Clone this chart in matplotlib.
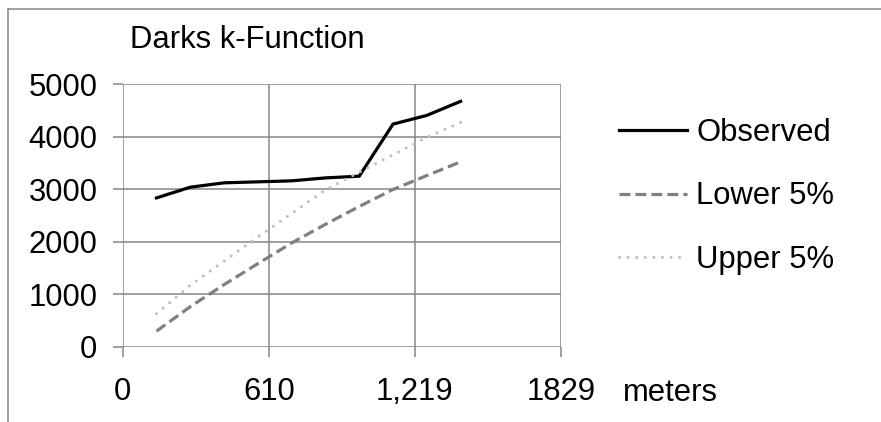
import matplotlib
matplotlib.use("Agg")
import matplotlib.pyplot as plt
from matplotlib.lines import Line2D

plt.rcParams['font.family'] = ['Liberation Sans', 'DejaVu Sans']

# ---------------- Data ----------------
distance = [141, 282, 423, 564, 705, 846, 987, 1128, 1269, 1410]
observed = [2833, 3038, 3121, 3140, 3159, 3215, 3248, 4241, 4407, 4675]
lower_5 = [293, 760, 1180, 1580, 1974, 2330, 2670, 2994, 3260, 3521]
upper_5 = [625, 1167, 1628, 2086, 2536, 2987, 3323, 3656, 3988, 4274]

x_ticks = [0, 610, 1219, 1829]
x_tick_labels = ["0", "610", "1,219", "1829"]
y_ticks = [0, 1000, 2000, 3000, 4000, 5000]

W, H = 881, 422
fs = 22.3
grid_col = "#868686"

fig = plt.figure(figsize=(W / 100, H / 100), dpi=100)
ax = fig.add_axes([122.7 / W, 1 - 346.5 / H, (561 - 122.7) / W, (346.5 - 84.3) / H])

ax.plot(distance, observed, color="black", lw=2.3, label="Observed", solid_joinstyle="miter")
ax.plot(distance, lower_5, color="#808080", lw=2.3, linestyle=(0, (3.4, 1.6)), label="Lower 5%")
ax.plot(distance, upper_5, color="#BFBFBF", lw=2.2, linestyle=(0, (0.01, 2.8)),
        dash_capstyle="round", label="Upper 5%")

ax.set_xlim(0, 1829)
ax.set_ylim(0, 5000)
ax.set_xticks(x_ticks)
ax.set_xticklabels(x_tick_labels)
ax.set_yticks(y_ticks)
ax.grid(True, color=grid_col, lw=1.1)
ax.set_axisbelow(True)
for s in ax.spines.values():
    s.set_visible(False)
ax.tick_params(axis="both", length=7.2, width=1.1, color=grid_col, labelsize=fs)
ax.tick_params(axis="x", pad=15)
ax.tick_params(axis="y", pad=11)

# title and axis unit label
fig.text(130 / W, 1 - 48 / H, "Darks k-Function", fontsize=fs, va="baseline", ha="left")
fig.text(623 / W, 1 - 401 / H, "meters", fontsize=fs, va="baseline", ha="left")

# legend to the right of the plot
fig.legend(loc="upper left", bbox_to_anchor=(619 / W, 1 - 118 / H), frameon=False,
           fontsize=fs, handlelength=2.2, handletextpad=0.3, labelspacing=1.08,
           borderpad=0, borderaxespad=0)

# chart frame (only top and left edges visible)
fig.add_artist(Line2D([8 / W, 1], [1 - 9 / H, 1 - 9 / H], color=grid_col, lw=1.1))
fig.add_artist(Line2D([7.5 / W, 7.5 / W], [0, 1 - 9 / H], color=grid_col, lw=1.1))

fig.savefig("out.png", dpi=100)
